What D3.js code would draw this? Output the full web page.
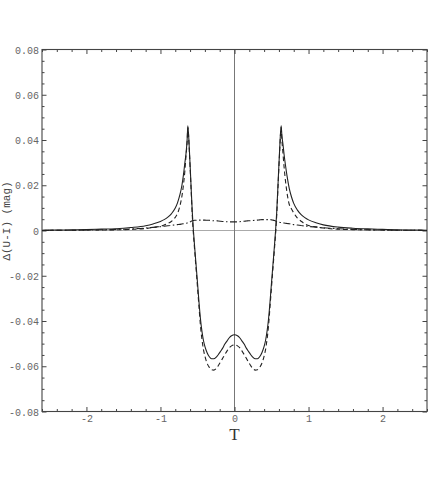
<!DOCTYPE html>
<html>
<head>
<meta charset="utf-8">
<script src="https://cdn.jsdelivr.net/npm/d3@7"></script>
<style>
  body { margin: 0; background: #fff; }
</style>
</head>
<body>
<svg id="chart" width="436" height="491"></svg>
<script>
// T values (non uniform, denser near the spikes)
const tValues = [
  -2.6, -2.4, -2.2, -2.0, -1.8, -1.6, -1.4, -1.2, -1.1, -1.0, -0.95, -0.9, -0.85, -0.8, -0.77, -0.74,
  -0.71, -0.69, -0.67, -0.655, -0.64, -0.63, -0.61, -0.59, -0.57, -0.555, -0.54, -0.52, -0.50, -0.48,
  -0.46, -0.44, -0.42, -0.40, -0.37, -0.34, -0.31, -0.28, -0.25, -0.22, -0.19, -0.16, -0.13, -0.10,
  -0.07, -0.04, 0,
  0.04, 0.07, 0.10, 0.13, 0.16, 0.19, 0.22, 0.25, 0.28, 0.31, 0.34, 0.37, 0.40, 0.42, 0.44, 0.46,
  0.48, 0.50, 0.52, 0.54, 0.555, 0.57, 0.59, 0.61, 0.63, 0.64, 0.655, 0.67, 0.69, 0.71, 0.74, 0.77,
  0.8, 0.85, 0.9, 0.95, 1.0, 1.1, 1.2, 1.4, 1.6, 1.8, 2.0, 2.2, 2.4, 2.6
];

// solid curve
const solidValues = [
  0.0001, 0.0002, 0.0003, 0.0004, 0.0006, 0.0008, 0.0013, 0.0021, 0.0029, 0.0040, 0.0048, 0.0059, 0.0075, 0.0099, 0.0122, 0.0155,
  0.0200, 0.0245, 0.0300, 0.0340, 0.0400, 0.0463, 0.0360, 0.0220, 0.0080, 0.0000, -0.0065, -0.0148, -0.0230, -0.0315,
  -0.0390, -0.0445, -0.0485, -0.0512, -0.0540, -0.0558, -0.0567, -0.0567, -0.0561, -0.0549, -0.0535, -0.0520, -0.0502, -0.0488,
  -0.0474, -0.0465, -0.0461,
  -0.0465, -0.0474, -0.0488, -0.0502, -0.0520, -0.0535, -0.0549, -0.0561, -0.0567, -0.0567, -0.0558, -0.0540, -0.0512, -0.0485, -0.0445, -0.0390,
  -0.0315, -0.0230, -0.0148, -0.0065, 0.0000, 0.0080, 0.0220, 0.0360, 0.0463, 0.0420, 0.0380, 0.0335, 0.0285, 0.0240, 0.0185, 0.0148,
  0.0120, 0.0090, 0.0070, 0.0057, 0.0047, 0.0034, 0.0025, 0.0015, 0.0010, 0.0007, 0.0005, 0.0003, 0.0002, 0.0001
];

// dashed curve
const dashedValues = [
  0.0000, 0.0001, 0.0001, 0.0002, 0.0002, 0.0003, 0.0005, 0.0009, 0.0013, 0.0019, 0.0024, 0.0031, 0.0041, 0.0058, 0.0075, 0.0105,
  0.0152, 0.0200, 0.0265, 0.0330, 0.0390, 0.0455, 0.0350, 0.0210, 0.0065, -0.0015, -0.0080, -0.0165, -0.0250, -0.0335,
  -0.0420, -0.0480, -0.0525, -0.0555, -0.0587, -0.0605, -0.0615, -0.0617, -0.0611, -0.0598, -0.0582, -0.0565, -0.0548, -0.0532,
  -0.0518, -0.0510, -0.0506,
  -0.0510, -0.0518, -0.0532, -0.0548, -0.0565, -0.0582, -0.0598, -0.0611, -0.0617, -0.0615, -0.0605, -0.0587, -0.0555, -0.0525, -0.0480, -0.0420,
  -0.0335, -0.0250, -0.0165, -0.0080, -0.0015, 0.0065, 0.0210, 0.0350, 0.0455, 0.0400, 0.0340, 0.0280, 0.0215, 0.0165, 0.0115, 0.0095,
  0.0078, 0.0055, 0.0041, 0.0029, 0.0022, 0.0016, 0.0011, 0.0006, 0.0004, 0.0003, 0.0002, 0.0001, 0.0001, 0.0000
];

// dash-dot curve
const dashDotValues = [
  0.0000, 0.0001, 0.0001, 0.0002, 0.0003, 0.0005, 0.0007, 0.0011, 0.0014, 0.0017, 0.0019, 0.0021, 0.0023, 0.0025, 0.0026, 0.0027,
  0.0029, 0.0030, 0.0031, 0.0032, 0.0033, 0.0034, 0.0036, 0.0040, 0.0043, 0.0044, 0.0045, 0.0045, 0.0046, 0.0046,
  0.0046, 0.0046, 0.0046, 0.0046, 0.0045, 0.0045, 0.0044, 0.0043, 0.0043, 0.0042, 0.0041, 0.0040, 0.0039, 0.0039,
  0.0038, 0.0038, 0.0038,
  0.0038, 0.0039, 0.0040, 0.0041, 0.0042, 0.0043, 0.0043, 0.0044, 0.0045, 0.0046, 0.0047, 0.0048, 0.0048, 0.0048, 0.0048, 0.0048,
  0.0048, 0.0047, 0.0046, 0.0044, 0.0042, 0.0040, 0.0038, 0.0036, 0.0035, 0.0034, 0.0034, 0.0033, 0.0032, 0.0031, 0.0030, 0.0028,
  0.0026, 0.0024, 0.0022, 0.0020, 0.0018, 0.0015, 0.0012, 0.0008, 0.0005, 0.0003, 0.0002, 0.0001, 0.0001, 0.0000
];

// tick labels
const xTickValues = [-2, -1, 0, 1, 2];
const yTickValues = [-0.08, -0.06, -0.04, -0.02, 0, 0.02, 0.04, 0.06, 0.08];
const yTickLabels = ["-0.08", "-0.06", "-0.04", "-0.02", "0", "0.02", "0.04", "0.06", "0.08"];

const margin = {top: 49.5, right: 9, bottom: 79.5, left: 42},
    width = 436 - margin.left - margin.right,
    height = 491 - margin.top - margin.bottom;

const svg = d3.select("#chart");
const g = svg.append("g")
    .attr("transform", "translate(" + margin.left + "," + margin.top + ")");

const x = d3.scaleLinear().domain([-2.6, 2.6]).range([0, width]);
const y = d3.scaleLinear().domain([-0.08, 0.08]).range([height, 0]);

const tickFont = "'Liberation Mono', 'Courier New', monospace";
const frameColor = "#444";

// minor tick positions
const xMinor = d3.range(-26, 27, 2).map(d => d / 10).filter(d => Math.abs(d - Math.round(d)) > 1e-6);
const yMinor = d3.range(-16, 17).map(d => d / 200).filter(d => Math.abs(d * 50 - Math.round(d * 50)) > 1e-6);

// zero lines
g.append("line")
    .attr("x1", 0).attr("x2", width)
    .attr("y1", y(0)).attr("y2", y(0))
    .attr("stroke", "#aaa").attr("stroke-width", 1.2);
g.append("line")
    .attr("x1", x(0)).attr("x2", x(0))
    .attr("y1", 0).attr("y2", height)
    .attr("stroke", "#777").attr("stroke-width", 1);

// axes with ticks pointing inward (frame style)
const bottomMajor = d3.axisBottom(x).tickValues(xTickValues).tickSizeInner(-4.5).tickSizeOuter(0)
    .tickFormat(d => d === 0 ? "0" : (d < 0 ? "-" + Math.abs(d) : String(d)));
const bottomMinor = d3.axisBottom(x).tickValues(xMinor).tickSizeInner(-2.5).tickSizeOuter(0).tickFormat("");
const topMajor = d3.axisTop(x).tickValues(xTickValues).tickSizeInner(-4.5).tickSizeOuter(0).tickFormat("");
const topMinor = d3.axisTop(x).tickValues(xMinor).tickSizeInner(-2.5).tickSizeOuter(0).tickFormat("");
const leftMajor = d3.axisLeft(y).tickValues(yTickValues).tickSizeInner(-4.5).tickSizeOuter(0)
    .tickFormat((d, i) => yTickLabels[i]);
const leftMinor = d3.axisLeft(y).tickValues(yMinor).tickSizeInner(-2.5).tickSizeOuter(0).tickFormat("");
const rightMajor = d3.axisRight(y).tickValues(yTickValues).tickSizeInner(-4.5).tickSizeOuter(0).tickFormat("");
const rightMinor = d3.axisRight(y).tickValues(yMinor).tickSizeInner(-2.5).tickSizeOuter(0).tickFormat("");

const styleAxis = (sel) => {
  sel.select(".domain").remove();
  sel.selectAll("line").attr("stroke", frameColor).attr("stroke-width", 1);
  sel.selectAll("text")
      .attr("font-family", tickFont)
      .attr("font-size", 10)
      .attr("fill", "#666");
};

g.append("g").attr("transform", "translate(0," + height + ")").call(bottomMajor).call(styleAxis)
    .selectAll("text").attr("dy", null).attr("y", 10);
g.append("g").attr("transform", "translate(0," + height + ")").call(bottomMinor).call(styleAxis);
g.append("g").call(topMajor).call(styleAxis);
g.append("g").call(topMinor).call(styleAxis);
g.append("g").call(leftMajor).call(styleAxis)
    .selectAll("text").attr("x", -3).attr("dy", "0.35em");
g.append("g").call(leftMinor).call(styleAxis);
g.append("g").attr("transform", "translate(" + width + ",0)").call(rightMajor).call(styleAxis);
g.append("g").attr("transform", "translate(" + width + ",0)").call(rightMinor).call(styleAxis);

// frame
g.append("rect")
    .attr("width", width).attr("height", height)
    .attr("fill", "none").attr("stroke", frameColor).attr("stroke-width", 1.1);

// curves
const series = [
  {values: solidValues, dash: null},
  {values: dashedValues, dash: "4.5,3"},
  {values: dashDotValues, dash: "7,2.5,1.5,2.5"}
];

const line = d3.line()
    .x(d => x(d[0]))
    .y(d => y(d[1]))
    .curve(d3.curveMonotoneX);

g.append("defs").append("clipPath").attr("id", "clip")
  .append("rect").attr("width", width).attr("height", height);

g.selectAll(".curve")
    .data(series)
  .enter().append("path")
    .attr("class", "curve")
    .attr("clip-path", "url(#clip)")
    .attr("d", s => line(tValues.map((t, i) => [t, s.values[i]])))
    .attr("fill", "none")
    .attr("stroke", "#222")
    .attr("stroke-width", 1.1)
    .attr("stroke-dasharray", s => s.dash);

// axis labels
svg.append("text")
    .attr("transform", "translate(10," + 221 + ") rotate(-90)")
    .attr("text-anchor", "middle")
    .attr("font-family", tickFont)
    .attr("font-size", 11)
    .attr("fill", "#444")
    .text("\u0394(U-I) (mag)");

svg.append("text")
    .attr("x", margin.left + x(0))
    .attr("y", 440)
    .attr("text-anchor", "middle")
    .attr("font-family", "'Liberation Serif', 'Times New Roman', serif")
    .attr("font-size", 17)
    .attr("fill", "#333")
    .text("T");
</script>
</body>
</html>
